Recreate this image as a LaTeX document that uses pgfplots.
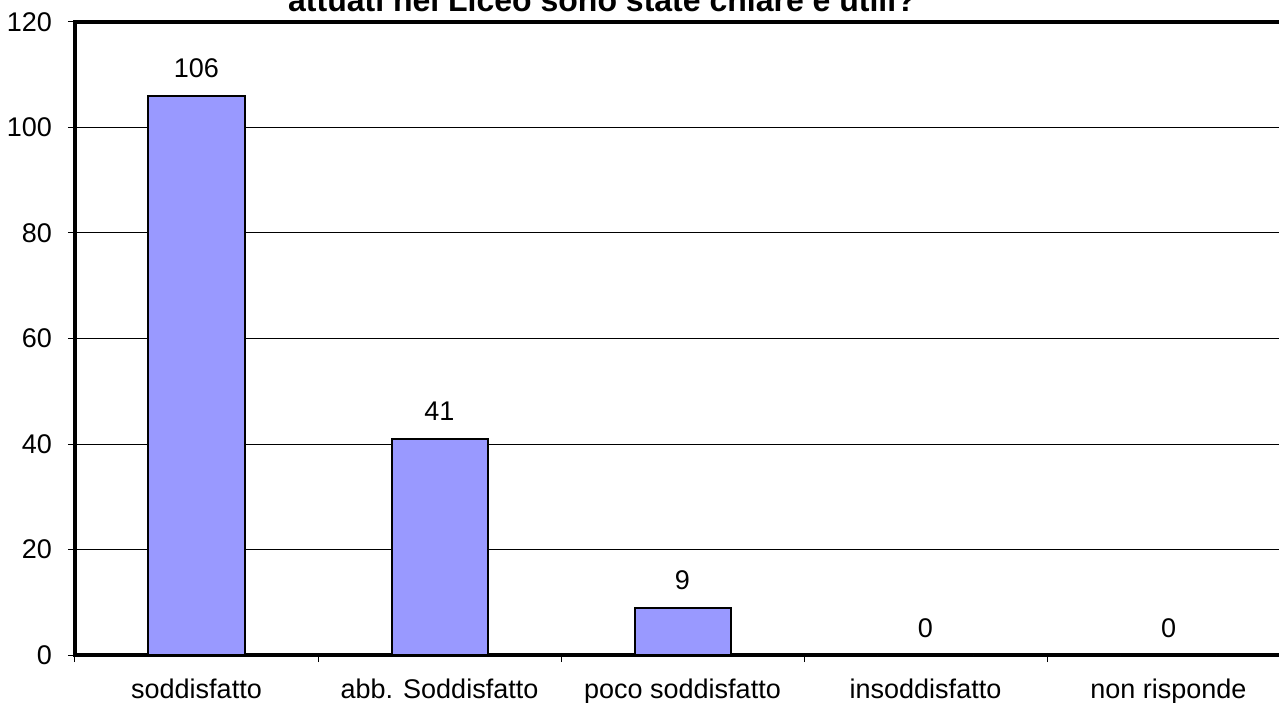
\documentclass[border=0pt]{standalone}
\usepackage{pgfplots}
\pgfplotsset{compat=1.18}
\usepackage{fontspec}
\setmainfont{Liberation Sans}
\definecolor{barblue}{HTML}{9999FF}
\begin{document}
\begin{tikzpicture}
\begin{axis}[
  scale only axis,
  width=607.5pt, height=316.5pt,
  xmin=-0.5, xmax=4.5,
  ymin=0, ymax=120,
  ytick={0,20,...,120},
  xtick={0,1,2,3,4},
  xticklabels={soddisfatto, abb. Soddisfatto, poco soddisfatto, insoddisfatto, non risponde},
  major x tick style={draw=none},
  minor xtick={-0.5,0.5,1.5,2.5,3.5,4.5},
  xtick pos=bottom, ytick pos=left,
  minor tick length=3.5pt,
  major tick length=3.5pt,
  tick align=outside,
  ymajorgrids,
  grid style={black, line width=0.5pt},
  axis line style={line width=2pt},
  every tick/.style={black, line width=0.5pt},
  tick label style={font=\fontsize{13.5}{16}\selectfont},
  /pgf/number format/assume math mode=true,
  xticklabel style={anchor=base, yshift=-18pt},
  yticklabel style={anchor=east, xshift=-4.5pt},
  ybar,
  bar width=48pt,
  nodes near coords,
  every node near coord/.append style={font=\fontsize{13.5}{16}\selectfont, anchor=base, yshift=9pt},
  clip=false,
]
\addplot[fill=barblue, draw=black, line width=1pt] coordinates {(0,106) (1,41) (2,9) (3,0) (4,0)};
\end{axis}
\node[anchor=base, font=\bfseries\fontsize{16}{19}\selectfont] at (263.5pt,321.5pt) {attuati nel Liceo sono state chiare e utili?};
\pgfresetboundingbox
\useasboundingbox (-37.5pt,-23.5pt) rectangle (602pt,327.5pt);
\end{tikzpicture}
\end{document}
